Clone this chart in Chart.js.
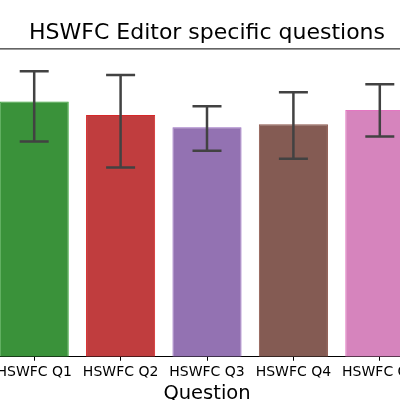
<!DOCTYPE html>
<html>
<head>
<meta charset="utf-8">
<script src="https://cdn.jsdelivr.net/npm/chart.js@4/dist/chart.umd.min.js"></script>
<style>
  html, body { margin: 0; padding: 0; background: #fff; overflow: hidden; width: 400px; height: 400px; }
  #wrap { position: absolute; left: -9px; top: 0; width: 432px; height: 405px; }
</style>
</head>
<body>
<div id="wrap"><canvas id="chart"></canvas></div>
<script>
// Data (y axis is cropped, values on a 0-5 scale)
const questions = ['HSWFC Q1', 'HSWFC Q2', 'HSWFC Q3', 'HSWFC Q4', 'HSWFC Q5'];
const means = [4.14, 3.92, 3.72, 3.77, 4.00];
const ciLow = [3.49, 3.07, 3.34, 3.21, 3.57];
const ciHigh = [4.63, 4.57, 4.06, 4.29, 4.42];

const fillColors = ['#3a923a', '#c03d3e', '#9372b2', '#845b53', '#d684bd'];
const edgeColors = ['#2ca02c', '#d62728', '#9467bd', '#8c564b', '#e377c2'];

// error bars + top spine
const errorBars = {
  id: 'errorBars',
  afterDatasetsDraw(chart) {
    const { ctx, chartArea } = chart;
    const xs = chart.scales.x, ys = chart.scales.y;
    ctx.save();
    ctx.strokeStyle = '#424242';
    ctx.lineWidth = 2.5;
    ctx.lineCap = 'butt';
    questions.forEach((q, i) => {
      const x = xs.getPixelForValue(i);
      const y1 = ys.getPixelForValue(ciLow[i]);
      const y2 = ys.getPixelForValue(ciHigh[i]);
      ctx.beginPath();
      ctx.moveTo(x, y1); ctx.lineTo(x, y2);
      ctx.moveTo(x - 14.5, y1); ctx.lineTo(x + 14.5, y1);
      ctx.moveTo(x - 14.5, y2); ctx.lineTo(x + 14.5, y2);
      ctx.stroke();
    });
    ctx.strokeStyle = '#000';
    ctx.lineWidth = 1;
    ctx.beginPath();
    ctx.moveTo(chartArea.left, chartArea.top + 0.5);
    ctx.lineTo(chartArea.right, chartArea.top + 0.5);
    ctx.stroke();
    ctx.restore();
  }
};

new Chart(document.getElementById('chart').getContext('2d'), {
  type: 'bar',
  data: {
    labels: questions,
    datasets: [{
      data: means,
      backgroundColor: fillColors,
      borderColor: edgeColors,
      borderWidth: 1,
      barPercentage: 0.8,
      categoryPercentage: 1.0,
    }]
  },
  options: {
    animation: false,
    responsive: true,
    maintainAspectRatio: false,
    devicePixelRatio: 1,
    layout: { padding: 0 },
    plugins: {
      legend: { display: false },
      tooltip: { enabled: false },
      title: {
        display: true,
        text: 'HSWFC Editor specific questions',
        color: '#000',
        font: { family: 'DejaVu Sans', size: 22, weight: 'normal', lineHeight: 1.2 },
        padding: { top: 20, bottom: 2 },
      },
    },
    scales: {
      x: {
        offset: true,
        grid: { display: true, drawOnChartArea: false, offset: false, tickLength: 4, color: '#000', tickColor: '#000' },
        border: { display: true, color: '#000', width: 1 },
        ticks: { color: '#000', padding: 3, maxRotation: 0, autoSkip: false, font: { family: 'DejaVu Sans', size: 14 } },
        title: {
          display: true,
          text: 'Question',
          color: '#000',
          font: { family: 'DejaVu Sans', size: 19.5, lineHeight: 1.1 },
          padding: { top: 0, bottom: 0 },
        },
      },
      y: {
        display: false,
        min: 0,
        max: 5,
      }
    }
  },
  plugins: [errorBars]
});
</script>
</body>
</html>
